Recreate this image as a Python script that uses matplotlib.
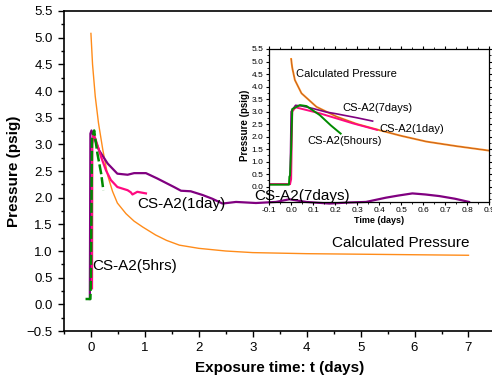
import matplotlib
matplotlib.use('Agg')
import matplotlib.pyplot as plt
from matplotlib.ticker import MultipleLocator

plt.rcParams['font.family'] = ['Liberation Sans', 'DejaVu Sans']

# main chart data (days, psig)
calc_t = [0.0, 0.03, 0.08, 0.14, 0.22, 0.31, 0.4, 0.49, 0.65, 0.8, 0.96,
          1.2, 1.4, 1.64, 2.0, 2.5, 3.0, 4.0, 5.0, 6.0, 7.0]
calc_p = [5.08, 4.5, 3.9, 3.4, 2.9, 2.42, 2.12, 1.9, 1.7, 1.56, 1.45,
          1.3, 1.2, 1.11, 1.05, 1.0, 0.97, 0.95, 0.94, 0.93, 0.92]

d7_t = [-0.02, -0.01, 0.01, 0.05, 0.15, 0.31, 0.49, 0.68, 0.80, 1.02, 1.23, 1.54, 1.67, 1.85,
        2.07, 2.25, 2.44, 2.69, 3.06, 3.43, 3.68, 3.99, 4.42, 4.8, 5.1, 5.47, 5.7, 5.96,
        6.2, 6.46, 6.75, 7.01]
d7_p = [0.1, 3.2, 3.26, 3.15, 2.89, 2.64, 2.45, 2.43, 2.46, 2.46, 2.36, 2.20, 2.13, 2.12,
        2.05, 1.98, 1.89, 1.92, 1.90, 1.92, 1.97, 1.92, 1.89, 1.91, 1.92, 2.0, 2.04, 2.08,
        2.06, 2.03, 1.98, 1.92]

d1_t = [0.02, 0.025, 0.05, 0.1, 0.19, 0.28, 0.37, 0.49, 0.68, 0.74, 0.77, 0.86, 1.02]
d1_p = [0.3, 3.0, 3.2, 3.05, 2.76, 2.51, 2.33, 2.2, 2.14, 2.1, 2.06, 2.11, 2.08]

h5_t = [-0.1, -0.01, 0.0, 0.02, 0.06, 0.12, 0.19, 0.23]
h5_p = [0.1, 0.1, 0.5, 3.1, 3.26, 2.83, 2.45, 2.14]

# inset data
in_calc_t = [0.0, 0.005, 0.017, 0.047, 0.115, 0.206, 0.3, 0.4, 0.5, 0.615, 0.75, 0.9]
in_calc_p = [5.1, 4.75, 4.26, 3.73, 3.19, 2.80, 2.50, 2.26, 2.03, 1.80, 1.62, 1.44]

in_d7_t = [-0.1, -0.005, 0.0, 0.02, 0.05, 0.1, 0.16, 0.2, 0.3, 0.37]
in_d7_p = [0.1, 0.1, 3.0, 3.25, 3.22, 3.12, 2.98, 2.92, 2.75, 2.62]

in_d1_t = [-0.1, -0.005, 0.0, 0.005, 0.02, 0.13, 0.28, 0.39]
in_d1_p = [0.1, 0.1, 0.3, 3.0, 3.17, 2.93, 2.53, 2.27]

in_h5_t = [-0.1, -0.01, -0.008, -0.005, 0.0, 0.005, 0.04, 0.07, 0.13, 0.18, 0.225]
in_h5_p = [0.08, 0.08, 0.4, 0.45, 1.5, 3.1, 3.26, 3.22, 2.86, 2.45, 2.12]

c_orange = '#ff8c1a'
c_purple = '#800080'
c_pink = '#ff0a80'
c_green = '#008a00'

fig = plt.figure(figsize=(4.92, 3.78), dpi=100)
ax = fig.add_axes([0.130, 0.1243, 0.877, 0.8466])

ax.plot(calc_t, calc_p, color=c_orange, lw=1.0)
ax.plot(d7_t, d7_p, color=c_purple, lw=1.6)
ax.plot(d1_t, d1_p, color=c_pink, lw=1.6)
ax.plot(h5_t, h5_p, color=c_green, lw=1.8, dashes=(4, 1.2))

ax.text(0.86, 1.88, 'CS-A2(1day)', fontsize=11, va='center')
ax.text(0.03, 0.72, 'CS-A2(5hrs)', fontsize=11, va='center')
ax.text(3.03, 2.03, 'CS-A2(7days)', fontsize=11, va='center')
ax.text(7.01, 1.15, 'Calculated Pressure', fontsize=11, va='center', ha='right')

ax.set_xlim(-0.5, 7.5)
ax.set_ylim(-0.5, 5.5)
ax.set_xticks(range(0, 8))
ax.set_yticks([-0.5 + 0.5 * i for i in range(13)])
ax.xaxis.set_minor_locator(MultipleLocator(0.5))
ax.yaxis.set_minor_locator(MultipleLocator(0.25))
ax.tick_params(which='major', direction='out', length=4.5, width=1, labelsize=9.5)
ax.tick_params(which='minor', direction='out', length=2.5, width=1)
ax.set_xlabel('Exposure time: t (days)', fontsize=11, fontweight='bold', labelpad=5)
ax.set_ylabel('Pressure (psig)', fontsize=11, fontweight='bold', labelpad=4)
for s in ax.spines.values():
    s.set_linewidth(1.2)

# inset
ins = fig.add_axes([0.547, 0.4664, 0.4475, 0.404])
ins.patch.set_facecolor('none')
ins.plot(in_calc_t, in_calc_p, color=c_orange, lw=1.4)
ins.plot(in_calc_t, in_calc_p, color='#a0522d', lw=0.4)
ins.plot(in_d7_t, in_d7_p, color=c_purple, lw=1.2)
ins.plot(in_d1_t, in_d1_p, color=c_pink, lw=1.4)
ins.plot(in_h5_t, in_h5_p, color=c_green, lw=1.4)

ins.text(0.022, 4.50, 'Calculated Pressure', fontsize=8, va='center')
ins.text(0.234, 3.13, 'CS-A2(7days)', fontsize=8, va='center')
ins.text(0.40, 2.29, 'CS-A2(1day)', fontsize=8, va='center')
ins.text(0.072, 1.84, 'CS-A2(5hours)', fontsize=8, va='center')

ins.set_xlim(-0.1, 0.9)
ins.set_ylim(-0.6, 5.5)
ins.set_xticks([-0.1 + 0.1 * i for i in range(11)])
ins.set_xticklabels(['-0.1', '0.0', '0.1', '0.2', '0.3', '0.4', '0.5', '0.6', '0.7', '0.8', '0.9'])
ins.set_yticks([0.5 * i for i in range(12)])
ins.xaxis.set_minor_locator(MultipleLocator(0.05))
ins.yaxis.set_minor_locator(MultipleLocator(0.25))
ins.tick_params(which='both', direction='out', top=True, right=True, labelsize=6, pad=1.5)
ins.tick_params(which='major', length=2.5, width=0.8)
ins.tick_params(which='minor', length=1.5, width=0.6)
ins.set_xlabel('Time (days)', fontsize=6.5, fontweight='bold', labelpad=1)
ins.set_ylabel('Pressure (psig)', fontsize=7, fontweight='bold', labelpad=1)
for s in ins.spines.values():
    s.set_linewidth(0.9)

fig.savefig('out.png', dpi=100)
plt.close(fig)
